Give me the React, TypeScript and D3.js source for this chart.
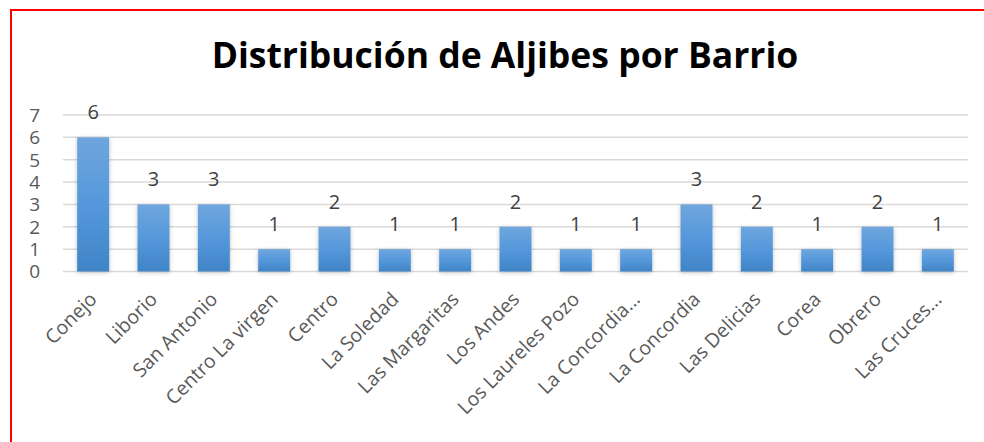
import React, { useEffect, useRef } from 'react';
import * as d3 from 'd3';

const barrios = [
  'Conejo', 'Liborio', 'San Antonio', 'Centro La virgen', 'Centro', 'La Soledad',
  'Las Margaritas', 'Los Andes', 'Los Laureles Pozo', 'La Concordia...', 'La Concordia',
  'Las Delicias', 'Corea', 'Obrero', 'Las Cruces...',
];
const aljibes = [6, 3, 3, 1, 2, 1, 1, 2, 1, 1, 3, 2, 1, 2, 1];
const yTicks = [0, 1, 2, 3, 4, 5, 6, 7];

const W = 984;
const H = 442;
const PLOT = { left: 63, right: 968, top: 115, bottom: 271.5 };
const FONT = '"Open Sans", sans-serif';

const App: React.FC = () => {
  const svgRef = useRef<SVGSVGElement>(null);

  useEffect(() => {
    if (!svgRef.current) return;
    const svg = d3.select(svgRef.current);
    svg.selectAll('*').remove();

    const defs = svg.append('defs');
    const grad = defs.append('linearGradient')
      .attr('id', 'barGrad').attr('x1', 0).attr('y1', 0).attr('x2', 0).attr('y2', 1);
    grad.append('stop').attr('offset', '0%').attr('stop-color', '#6fa6dd');
    grad.append('stop').attr('offset', '50%').attr('stop-color', '#5598db');
    grad.append('stop').attr('offset', '100%').attr('stop-color', '#3f84c6');
    defs.append('filter').attr('id', 'shadow').attr('x', '-30%').attr('y', '-10%').attr('width', '160%').attr('height', '130%')
      .append('feDropShadow').attr('dx', 0).attr('dy', 1).attr('stdDeviation', 2)
      .attr('flood-color', '#000').attr('flood-opacity', 0.25);

    svg.append('rect').attr('width', W).attr('height', H).attr('fill', '#fff');

    // borde rojo
    svg.append('rect')
      .attr('x', 11).attr('y', 10).attr('width', W + 20).attr('height', H + 20)
      .attr('fill', 'none').attr('stroke', '#ff0000').attr('stroke-width', 2);

    svg.append('text')
      .attr('x', 505).attr('y', 68)
      .attr('text-anchor', 'middle')
      .style('font-family', FONT)
      .style('font-weight', 700)
      .style('font-size', '35.5px')
      .style('fill', '#000')
      .text('Distribución de Aljibes por Barrio');

    const x = d3.scaleBand<string>().domain(barrios).range([PLOT.left, PLOT.right]).paddingInner(0.47).paddingOuter(0.235);
    const y = d3.scaleLinear().domain([0, 7]).range([PLOT.bottom, PLOT.top]);

    const g = svg.append('g');

    g.selectAll('line.grid').data(yTicks).enter().append('line')
      .attr('x1', PLOT.left).attr('x2', PLOT.right)
      .attr('y1', d => y(d)).attr('y2', d => y(d))
      .attr('stroke', '#d9d9d9').attr('stroke-width', 1.5);

    g.selectAll('text.ytick').data(yTicks).enter().append('text')
      .attr('x', 40).attr('y', d => y(d)).attr('dy', '0.36em')
      .attr('text-anchor', 'end')
      .style('font-family', FONT)
      .style('font-size', '19px')
      .style('fill', '#595959')
      .text(d => d);

    g.selectAll('rect.bar').data(aljibes).enter().append('rect')
      .attr('x', (_, i) => x(barrios[i])!)
      .attr('y', d => y(d))
      .attr('width', x.bandwidth())
      .attr('height', d => y(0) - y(d))
      .attr('fill', 'url(#barGrad)')
      .attr('filter', 'url(#shadow)');

    g.selectAll('text.val').data(aljibes).enter().append('text')
      .attr('x', (_, i) => x(barrios[i])! + x.bandwidth() / 2)
      .attr('y', d => y(d) - 18)
      .attr('text-anchor', 'middle')
      .style('font-family', FONT)
      .style('font-size', '20px')
      .style('fill', '#404040')
      .text(d => d);

    g.selectAll('text.xlab').data(barrios).enter().append('text')
      .attr('transform', d => `translate(${x(d)! + x.bandwidth() / 2 + 5},${PLOT.bottom + 29}) rotate(-45)`)
      .attr('text-anchor', 'end')
      .style('font-family', FONT)
      .style('font-size', '19.5px')
      .style('fill', '#595959')
      .text(d => d);
  }, []);

  return <svg ref={svgRef} width={W} height={H} style={{ display: 'block', position: 'absolute', left: 0, top: 0 }} />;
};

export default App;
